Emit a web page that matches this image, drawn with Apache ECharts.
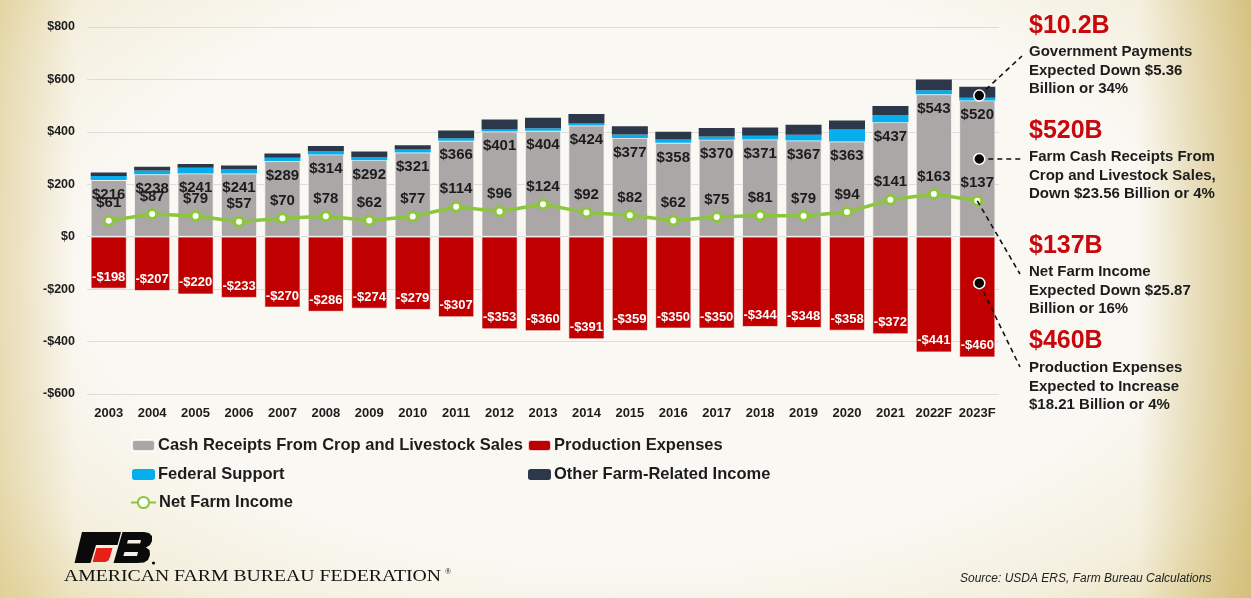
<!DOCTYPE html>
<html>
<head>
<meta charset="utf-8">
<script src="https://cdn.jsdelivr.net/npm/echarts@6/dist/echarts.min.js"></script>
<style>
html,body{margin:0;padding:0;width:1251px;height:598px;overflow:hidden;}
body{
  background:
    linear-gradient(to right, rgba(214,192,120,0.45) 0%, rgba(214,192,120,0) 6%, rgba(214,192,120,0) 91%, rgba(205,182,105,0.75) 100%),
    radial-gradient(ellipse 72% 82% at 50% 45%, #faf8f3 60%, #f4efdd 80%, #e6d8a6 100%);
}
#c{width:1251px;height:598px;}
</style>
</head>
<body>
<div id="c"></div>
<script>
const years = ['2003','2004','2005','2006','2007','2008','2009','2010','2011','2012','2013','2014','2015','2016','2017','2018','2019','2020','2021','2022F','2023F'];
const cashReceipts = [216,238,241,241,289,314,292,321,366,401,404,424,377,358,370,371,367,363,437,543,520];
const federalSupport = [16,15,22,17,12,13,12,12,10,8,10,8,13,13,12,14,22,46,26,16,10];
const otherIncome = [13,14,14,14,16,19,21,16,29,38,40,36,31,29,33,32,38,34,36,41,42];
const productionExpenses = [-198,-207,-220,-233,-270,-286,-274,-279,-307,-353,-360,-391,-359,-350,-350,-344,-348,-358,-372,-441,-460];
const netFarmIncome = [61,87,79,57,70,78,62,77,114,96,124,92,82,62,75,81,79,94,141,163,137];
const yTicks = {min:-600, max:800, interval:200};

const SANS = '"Liberation Sans",Arial,sans-serif';
const DARK = '#1c1c1c';

const chart = echarts.init(document.getElementById('c'), null, {renderer:'canvas'});

function legendAt(name, left, top, isLine){
  return {
    data:[name], left:left, top:top, itemWidth: isLine?25:23, itemHeight: isLine?14:11, itemGap:4,
    textStyle:{fontFamily:SANS, fontWeight:'bold', fontSize:16.5, color:DARK, padding:[0,0,0,-2]},
    selectedMode:false
  };
}

const option = {
  animation:false,
  backgroundColor:'transparent',
  grid:{left:87, right:252, top:27, bottom:204, containLabel:false},
  legend:[
    legendAt('Cash Receipts From Crop and Livestock Sales',126,432),
    legendAt('Production Expenses',522,432),
    legendAt('Federal Support',127,461),
    legendAt('Other Farm-Related Income',523,461),
    legendAt('Net Farm Income',125,489,true)
  ],
  xAxis:{
    type:'category', data:years,
    axisLine:{show:false}, axisTick:{show:false},
    axisLabel:{fontFamily:SANS, fontWeight:'bold', fontSize:13, color:DARK, margin:13, interval:0}
  },
  yAxis:{
    type:'value', min:yTicks.min, max:yTicks.max, interval:yTicks.interval,
    axisLine:{show:false}, axisTick:{show:false},
    axisLabel:{fontFamily:SANS, fontWeight:'bold', fontSize:12.5, color:DARK, margin:12,
      formatter:v => (v<0?'-$':'$')+Math.abs(v)},
    splitLine:{lineStyle:{color:'#dcdcdc', width:1.2}}
  },
  series:[
    {name:'Cash Receipts From Crop and Livestock Sales', type:'bar', stack:'total', data:cashReceipts,
      barWidth:36, itemStyle:{color:'#aba7a7', borderColor:'rgba(255,255,255,0.8)', borderWidth:0.8},
      label:{show:true, position:'insideTop', distance:7, formatter:p=>'$'+p.value,
        fontFamily:SANS, fontWeight:'bold', fontSize:15, color:DARK}},
    {name:'Federal Support', type:'bar', stack:'total', data:federalSupport,
      itemStyle:{color:'#06aeee'}},
    {name:'Other Farm-Related Income', type:'bar', stack:'total', data:otherIncome,
      itemStyle:{color:'#2c3849'}},
    {name:'Production Expenses', type:'bar', stack:'total', data:productionExpenses,
      itemStyle:{color:'#c00000', borderColor:'rgba(255,255,255,0.8)', borderWidth:0.8},
      label:{show:true, position:'insideBottom', distance:5, formatter:p=>'-$'+Math.abs(p.value),
        fontFamily:SANS, fontWeight:'bold', fontSize:13, color:'#ffffff'}},
    {name:'Net Farm Income', type:'line', data:netFarmIncome, z:5,
      symbol:'circle', symbolSize:9,
      lineStyle:{color:'#8cc63f', width:3.5},
      itemStyle:{color:'#ffffff', borderColor:'#8cc63f', borderWidth:3},
      label:{show:true, position:'top', distance:4, formatter:p=>'$'+p.value,
        fontFamily:SANS, fontWeight:'bold', fontSize:15, color:DARK}}
  ]
};
chart.setOption(option);

// annotations
const idx = years.length-1;
const last = years[idx];
const px = v => chart.convertToPixel({xAxisIndex:0, yAxisIndex:0}, [last, v]);
const govDot = px(cashReceipts[idx] + federalSupport[idx] + otherIncome[idx]*0.2);
const cashDot = px(cashReceipts[idx]*0.57);
const netPt = px(netFarmIncome[idx]);
const expDot = px(productionExpenses[idx]*0.385);

const dash = {stroke:'#111', lineWidth:1.6, lineDash:[5,4]};
function line(a,b){ return {type:'line', shape:{x1:a[0],y1:a[1],x2:b[0],y2:b[1]}, style:dash, z:20}; }
function dot(p){ return {type:'circle', shape:{cx:p[0]+2, cy:p[1], r:5.5}, style:{fill:'#050505', stroke:'#ffffff', lineWidth:1.5}, z:21}; }
function txt(s, x, y, font, fill){
  return {type:'text', z:22, style:{text:s, x:x, y:y, font:font, fill:fill, textAlign:'left', textVerticalAlign:'middle'}};
}
function poly(points, fill, z){ return {type:'polygon', z:z||10, shape:{points:points}, style:{fill:fill}}; }
const TITLE = 'bold 25px "Liberation Sans", Arial, sans-serif';
const BODY = 'bold 15px "Liberation Sans", Arial, sans-serif';
const RED = '#c8080c';
const AX = 1029;
const notes = [
  {title:'$10.2B', y:26, lines:['Government Payments','Expected Down $5.36','Billion or 34%'], ly:52},
  {title:'$520B', y:131, lines:['Farm Cash Receipts From','Crop and Livestock Sales,','Down $23.56 Billion or 4%'], ly:157},
  {title:'$137B', y:246, lines:['Net Farm Income','Expected Down $25.87','Billion or 16%'], ly:272},
  {title:'$460B', y:341, lines:['Production Expenses','Expected to Increase','$18.21 Billion or 4%'], ly:368}
];
const g = [];
notes.forEach(n=>{
  g.push(txt(n.title, AX, n.y, TITLE, RED));
  n.lines.forEach((l,i)=>g.push(txt(l, AX, n.ly + i*18.5, BODY, DARK)));
});
g.push(line([govDot[0]+2,govDot[1]],[1022,56]));
g.push(line([cashDot[0]+2,cashDot[1]],[1024,cashDot[1]]));
g.push(line([netPt[0],netPt[1]],[1020,274]));
g.push(line([expDot[0]+2,expDot[1]],[1020,367]));
g.push(dot(govDot)); g.push(dot(cashDot)); g.push(dot(expDot));

// logo
const BG = '#f3efe2';
g.push(poly([[82,532],[121,532],[117.5,545],[96,545],[90.5,563],[74.5,563]], '#0a0a0a'));
g.push(poly([[96.5,548],[112.5,548],[110,557],[108.5,560.5],[105.5,562],[92.5,562]], '#e8201a'));
g.push(poly([[122.5,532],[144,532],[149,533],[152,536],[152,541],[150,545],[146,547.5],[149.5,550],[150,555],[148,560],[144,562.5],[137,563],[113.5,563]], '#0a0a0a'));
g.push(poly([[128,540],[141,540],[140.2,543.5],[127,543.5]], BG, 11));
g.push(poly([[124.5,552],[138,552],[137,556],[123.3,556]], BG, 11));
g.push({type:'circle', z:11, shape:{cx:153.5, cy:563, r:1.6}, style:{fill:'#0a0a0a'}});
g.push({type:'text', z:10, x:64, y:577, scaleX:1.16, style:{text:'AMERICAN FARM BUREAU FEDERATION', x:0, y:0, font:'17px "Liberation Serif","DejaVu Serif",serif', fill:'#111', textVerticalAlign:'middle'}});
g.push({type:'text', z:10, style:{text:'®', x:445, y:572, font:'8px "Liberation Serif",serif', fill:'#111', textVerticalAlign:'middle'}});
g.push({type:'text', z:10, style:{text:'Source: USDA ERS, Farm Bureau Calculations', x:960, y:579, font:'italic 12px "Liberation Sans", Arial, sans-serif', fill:'#222', textVerticalAlign:'middle'}});

chart.setOption({graphic:{elements:g}});
</script>
</body>
</html>
